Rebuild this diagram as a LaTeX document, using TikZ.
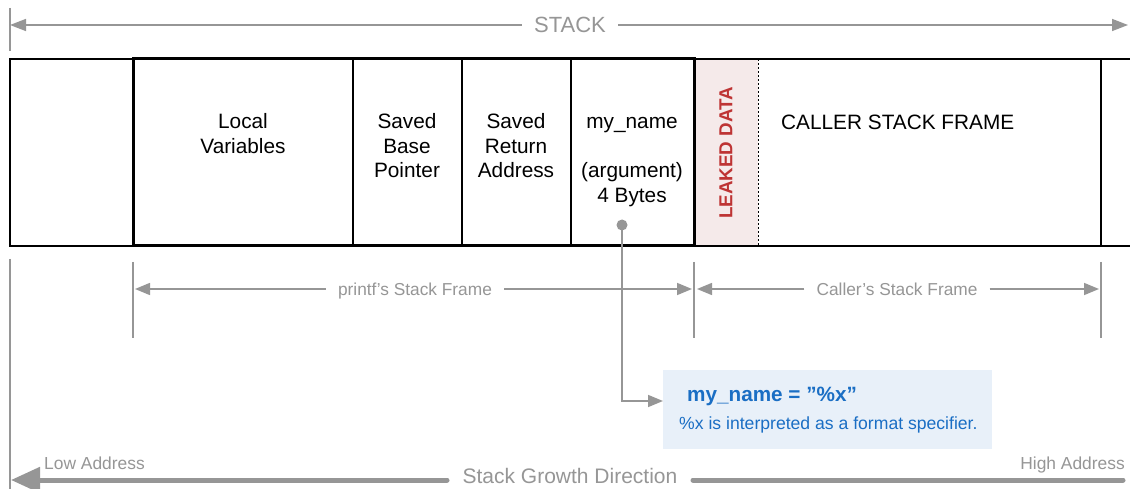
\documentclass[tikz,border=0pt]{standalone}
\usepackage{fontspec}
\setmainfont{Liberation Sans}
\usetikzlibrary{arrows.meta}

\definecolor{guide}{RGB}{150,150,150}
\definecolor{leakfill}{RGB}{245,234,234}
\definecolor{leakred}{RGB}{190,52,52}
\definecolor{notefill}{RGB}{232,240,249}
\definecolor{noteblue}{RGB}{26,110,196}

\tikzset{
  celltext/.style={font=\fontsize{20.8}{24.5}\selectfont, align=center, anchor=base, inner sep=0pt},
  dimlabel/.style={font=\fontsize{17.3}{20}\selectfont, text=guide, inner sep=0pt, text height=12.5pt, text depth=0pt},
  dimline/.style={draw=guide, line width=1.5pt, -{Triangle[length=15pt,width=12pt]}},
  tick/.style={draw=guide, line width=1.5pt},
  thinbox/.style={draw=black, line width=1.5pt},
  framebox/.style={draw=black, line width=3pt},
  growth/.style={draw=guide, line width=5pt},
  addr/.style={font=\fontsize{17.4}{20}\selectfont, text=guide, inner sep=0pt},
}

\begin{document}
\begin{tikzpicture}[x=1pt, y=-1pt]
  \useasboundingbox (0,0) rectangle (1130,489);
  \fill[white] (0,0) rectangle (1130,489);

  % ---- overall stack span ----
  \coordinate (stackL) at (10,25);
  \coordinate (stackR) at (1128,25);
  \draw[tick] (10,8) -- (10,51);
  \node[font=\fontsize{22}{24}\selectfont, text=guide, inner sep=0pt, text height=16pt, text depth=0pt]
    (stk) at (570,25) {STACK};
  \draw[dimline, -{Triangle[length=16pt,width=12pt]}] ([xshift=-12pt]stk.west) -- (stackL);
  \draw[dimline, -{Triangle[length=16pt,width=12pt]}] ([xshift=12pt]stk.east) -- (stackR);

  % ---- stack cells ----
  \fill[leakfill] (694,59) rectangle (758,246);
  \draw[thinbox] (1130,59) -- (10,59) -- (10,246) -- (1130,246);
  \draw[thinbox] (1101,59) -- (1101,246);
  \draw[black, line width=1pt, dash pattern=on 2pt off 2pt] (758,59) -- (758,246);
  \draw[thinbox] (353,59) -- (353,246);
  \draw[thinbox] (462,59) -- (462,246);
  \draw[thinbox] (571,59) -- (571,246);
  \draw[framebox] (133,59) rectangle (694,246);

  % multi-line labels sit on the baseline of their last line
  \node[celltext] (locals) at (243,153.5) {Local\\Variables};
  \node[celltext] (sbp) at (407,178) {Saved\\Base\\Pointer};
  \node[celltext] (sra) at (516,178) {Saved\\Return\\Address};
  \node[celltext] (arg) at (632,202.5) {my\_name\\[24.5pt](argument)\\4 Bytes};
  \node[celltext, anchor=base west] (caller) at (781,129.5) {CALLER STACK FRAME};
  \node[font=\fontsize{18.8}{20}\selectfont\bfseries, text=leakred, rotate=90, inner sep=0pt]
    (leak) at (726,153) {LEAKED DATA};

  % ---- frame extents ----
  \coordinate (t1) at (133,289);
  \coordinate (t2) at (694,289);
  \coordinate (t3) at (1101,289);
  \draw[tick] (133,262) -- (133,338);
  \draw[tick] (694,262) -- (694,338);
  \draw[tick] (1101,262) -- (1101,338);

  \node[dimlabel] (pf) at (415,289) {printf’s Stack Frame};
  \draw[dimline] ([xshift=-12pt]pf.west) -- ([xshift=2pt]t1);
  \draw[dimline] ([xshift=12pt]pf.east) -- ([xshift=-2pt]t2);

  \node[dimlabel] (cf) at (897,289) {Caller’s Stack Frame};
  \draw[dimline] ([xshift=-12pt]cf.west) -- ([xshift=3pt]t2);
  \draw[dimline] ([xshift=12pt]cf.east) -- ([xshift=-2pt]t3);

  % ---- note on the argument ----
  \node[fill=notefill, minimum width=329pt, minimum height=79pt, inner sep=0pt, anchor=north west]
    (note) at (663,370) {};
  \node[font=\fontsize{20.7}{24}\selectfont\bfseries, text=noteblue, anchor=base west, inner sep=0pt]
    (notetitle) at (687,401.5) {my\_name = ”\%x”};
  \node[font=\fontsize{17.6}{20}\selectfont, text=noteblue, anchor=base west, inner sep=0pt]
    (notebody) at (679,429.5) {\%x is interpreted as a format specifier.};

  \coordinate (pin) at (622,225);
  \fill[guide] (pin) circle (5.5pt);
  \draw[tick, -{Triangle[length=15pt,width=12pt]}] (pin) |- (note.west |- 0,401);

  % ---- growth direction ----
  \draw[tick] (10,259) -- (10,489);
  \node[font=\fontsize{21}{24}\selectfont, text=guide, inner sep=0pt, text height=16pt, text depth=0pt]
    (growthlabel) at (570,475) {Stack Growth Direction};
  \coordinate (lowend) at (11,480);
  \coordinate (highend) at (1123,480);
  \draw[growth, line cap=round, -{Triangle[length=29pt,width=25pt]}] (447,480) -- (lowend);
  \draw[growth, line cap=round] (693,480) -- (highend);
  \node[addr, anchor=base west] (low) at (44,469) {Low Address};
  \node[addr, anchor=base east] (high) at (1125,469) {High Address};
\end{tikzpicture}
\end{document}
